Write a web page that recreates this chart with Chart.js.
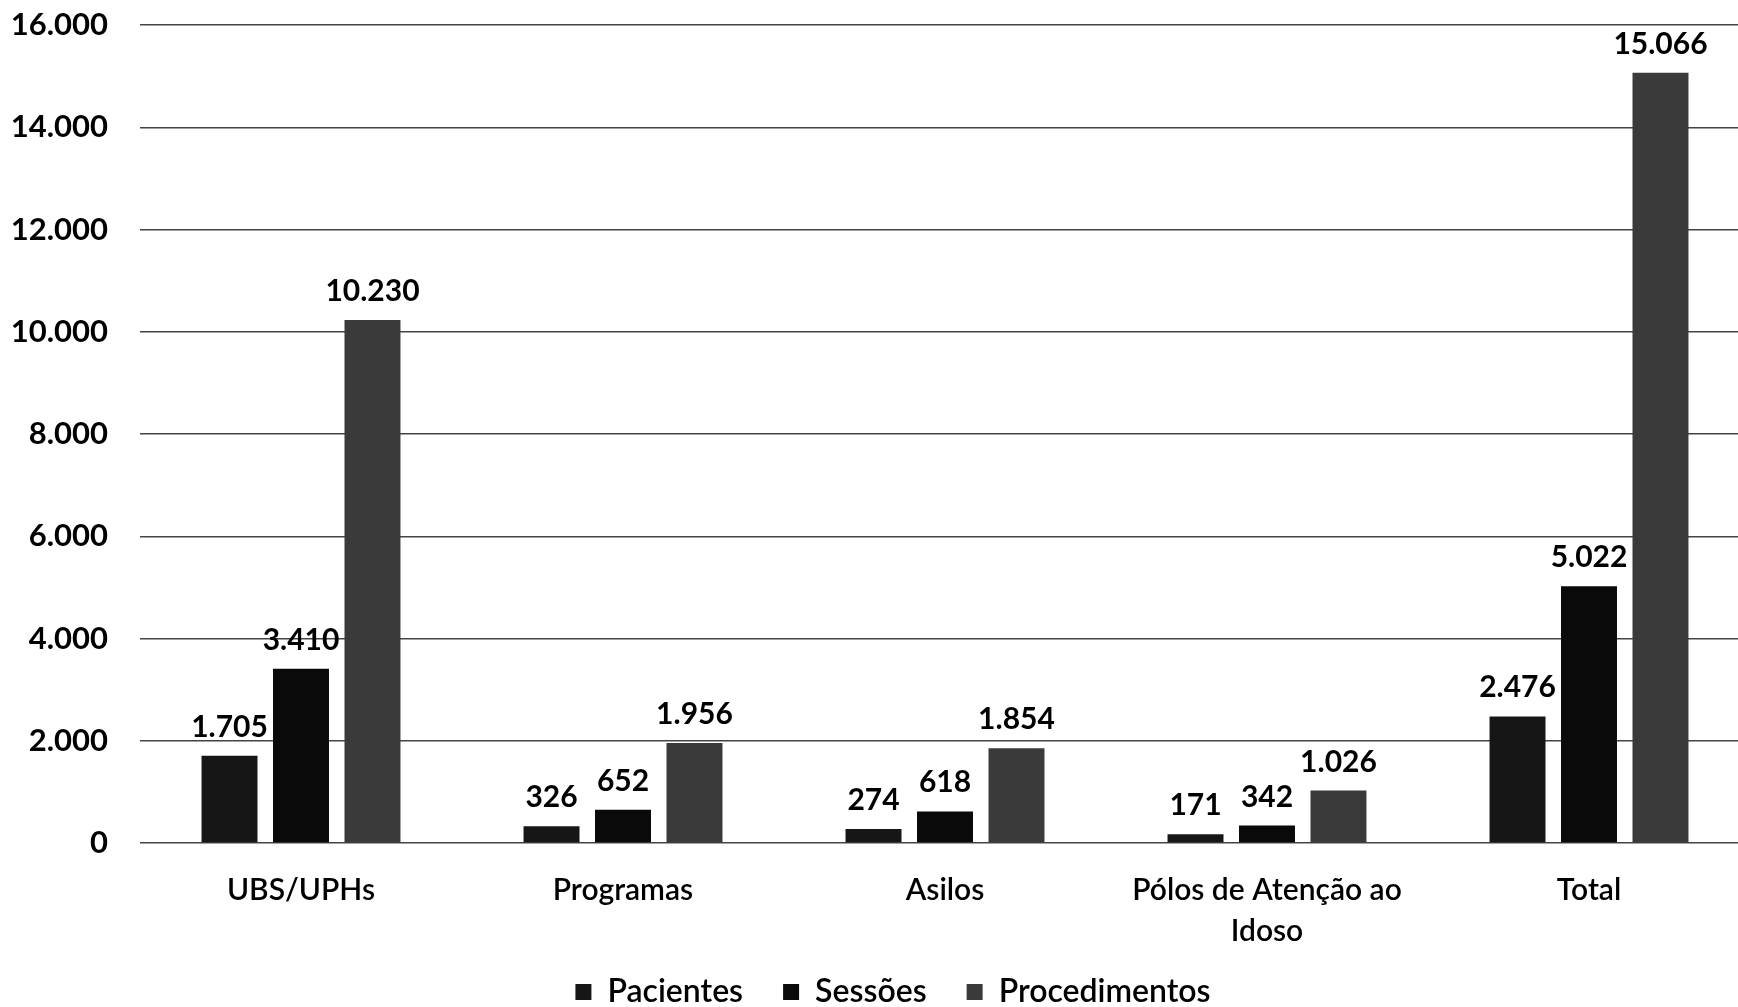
<!DOCTYPE html>
<html lang="pt-BR">
<head>
<meta charset="utf-8">
<title>Pacientes, Sessões e Procedimentos</title>
<script src="https://cdn.jsdelivr.net/npm/chart.js@4/dist/chart.umd.min.js"></script>
<style>
    html, body {
        margin: 0;
        padding: 0;
        background: #fff;
        overflow: hidden;
    }
    #wrap {
        width: 1750px;
        height: 1039px;
    }
</style>
</head>
<body>
<div id="wrap"><canvas id="chart" width="1750" height="1039"></canvas></div>
<script>
// dados do gráfico
const categorias = ['UBS/UPHs', 'Programas', 'Asilos', ['Pólos de Atenção ao', 'Idoso'], 'Total'];
const pacientes = [1705, 326, 274, 171, 2476];
const sessoes = [3410, 652, 618, 342, 5022];
const procedimentos = [10230, 1956, 1854, 1026, 15066];
const yMin = 0;
const yMax = 16000;
const yStep = 2000;

const FONT = 'Lato, "Open Sans", "DejaVu Sans", sans-serif';

// formata número com ponto de milhar (16.000)
function fmt(v) {
    return String(Math.round(v)).replace(/\B(?=(\d{3})+(?!\d))/g, '.');
}

// rótulos de valor acima das barras
const valueLabels = {
    id: 'valueLabels',
    afterDatasetsDraw(chart) {
        const ctx = chart.ctx;
        ctx.save();
        ctx.font = 'bold 30px ' + FONT;
        ctx.fillStyle = '#000';
        ctx.textAlign = 'center';
        ctx.textBaseline = 'alphabetic';
        chart.data.datasets.forEach((ds, i) => {
            const meta = chart.getDatasetMeta(i);
            meta.data.forEach((bar, j) => {
                ctx.fillText(fmt(ds.data[j]), bar.x, bar.y - 19);
            });
        });
        ctx.restore();
    }
};

// desloca a legenda para a posição do original
const legendShift = {
    id: 'legendShift',
    afterLayout(chart) {
        const lg = chart.legend;
        lg.left += 13;
        lg.right += 13;
        lg.top -= 21;
        lg.bottom -= 21;
    }
};

const ctx = document.getElementById('chart').getContext('2d');
new Chart(ctx, {
    type: 'bar',
    data: {
        labels: categorias,
        datasets: [
            { label: 'Pacientes', data: pacientes, backgroundColor: '#161616' },
            { label: 'Sessões', data: sessoes, backgroundColor: '#0a0a0a' },
            { label: 'Procedimentos', data: procedimentos, backgroundColor: '#3a3a3a' }
        ]
    },
    options: {
        responsive: false,
        animation: false,
        layout: {
            padding: { left: 10, right: 0, top: 25, bottom: 0 }
        },
        datasets: {
            bar: {
                barPercentage: 0.783,
                categoryPercentage: 0.666
            }
        },
        plugins: {
            legend: {
                position: 'bottom',
                labels: {
                    boxWidth: 16,
                    boxHeight: 16,
                    padding: 40,
                    color: '#000',
                    font: { family: FONT, size: 32, weight: 600 }
                }
            },
            tooltip: { enabled: false }
        },
        scales: {
            x: {
                grid: { display: false, drawTicks: false },
                border: { display: false },
                ticks: {
                    color: '#000',
                    padding: 27,
                    maxRotation: 0,
                    autoSkip: false,
                    font: { family: FONT, size: 30, weight: 600, lineHeight: 1.37 }
                },
                afterFit(scale) { scale.height = 114; }
            },
            y: {
                min: yMin,
                max: yMax,
                grid: { color: '#444', lineWidth: 1.5, drawTicks: false },
                border: { display: false },
                ticks: {
                    stepSize: yStep,
                    color: '#000',
                    padding: 32,
                    font: { family: FONT, size: 31, weight: 'bold' },
                    callback: v => fmt(v)
                },
                afterFit(scale) {
                    scale.width = 130;
                    scale.paddingTop = 0;
                    scale.paddingBottom = 0;
                }
            }
        }
    },
    plugins: [valueLabels, legendShift]
});
</script>
</body>
</html>
